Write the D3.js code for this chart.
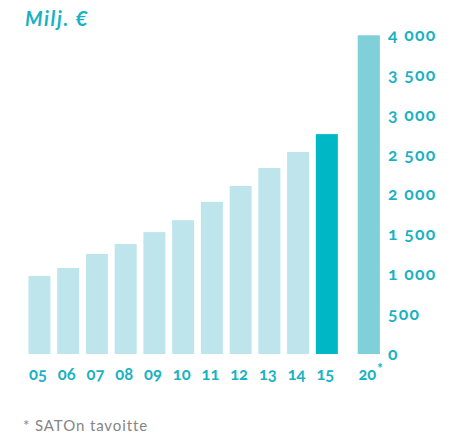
<!DOCTYPE html>
<html>
<head>
<meta charset="utf-8">
<script src="https://cdn.jsdelivr.net/npm/d3@7"></script>
<style>
  html, body { margin: 0; padding: 0; background: #fff; }
  svg { display: block; }
  text { font-family: Lato, "Open Sans", sans-serif; }
</style>
</head>
<body>
<svg id="chart" width="450" height="434"></svg>
<script>
// ---- data ----
const years = ["05", "06", "07", "08", "09", "10", "11", "12", "13", "14", "15"];
const values = [980, 1080, 1255, 1380, 1530, 1680, 1910, 2110, 2335, 2535, 2760];
const targetLabel = "20";
const targetValue = 4000;
const yTicks = [0, 500, 1000, 1500, 2000, 2500, 3000, 3500, 4000];
const unitLabel = "Milj. €";
const footnote = "* SATOn tavoitte";

// ---- styles ----
const teal = "#18b2c2";
const lightBar = "#bee5eb";
const darkBar = "#00b8c5";
const targetBar = "#80d0d9";

const svg = d3.select("#chart");

const y = d3.scaleLinear().domain([0, 4000]).range([354, 35.3]);

const x = d3.scaleBand().domain(years).range([25.1, 341.2])
  .paddingInner(0.234).paddingOuter(0.117);
const x2 = d3.scaleBand().domain([targetLabel]).range([354.3, 383.3])
  .paddingInner(0.234).paddingOuter(0.117);

// bars
svg.append("g").selectAll("rect").data(years).join("rect")
  .attr("x", d => x(d))
  .attr("width", x.bandwidth())
  .attr("y", (d, i) => y(values[i]))
  .attr("height", (d, i) => y(0) - y(values[i]))
  .attr("fill", d => d === "15" ? darkBar : lightBar);

svg.append("rect")
  .attr("x", x2(targetLabel))
  .attr("width", x2.bandwidth())
  .attr("y", y(targetValue))
  .attr("height", y(0) - y(targetValue))
  .attr("fill", targetBar);

// x labels
svg.append("g").selectAll("text").data(years).join("text")
  .attr("x", d => x(d) + x.bandwidth() / 2 - 1.5)
  .attr("y", 380)
  .attr("text-anchor", "middle")
  .attr("fill", teal)
  .attr("font-size", 16.5)
  .attr("font-weight", 700)
  .style("font-variant-numeric", "oldstyle-nums")
  .text(d => d);

const tl = svg.append("text")
  .attr("y", 380)
  .attr("fill", teal)
  .attr("font-size", 16.5)
  .attr("font-weight", 700)
  .style("font-variant-numeric", "oldstyle-nums");
tl.append("tspan").text(targetLabel);
const w20 = tl.node().getComputedTextLength();
tl.attr("x", x2(targetLabel) + x2.bandwidth() / 2 - 1.5 - w20 / 2);
tl.append("tspan").attr("dx", 1).attr("dy", -7).attr("font-size", 13).attr("font-weight", 900).text("*");

// y axis (right)
const yAxis = d3.axisRight(y).tickValues(yTicks).tickSize(0).tickPadding(0)
  .tickFormat(v => d3.format(",")(v).replace(/,/g, " "));
const gy = svg.append("g").attr("transform", "translate(388,0)").call(yAxis);
gy.select(".domain").remove();
gy.selectAll("text")
  .attr("fill", teal)
  .attr("font-size", 17.5)
  .attr("font-weight", 700)
  .attr("dy", "0.3em")
  .style("letter-spacing", "1.3px")
  .style("font-variant-numeric", "oldstyle-nums")
  .style("font-family", "Lato, sans-serif");

// unit title
svg.append("text")
  .attr("x", 25).attr("y", 26)
  .attr("fill", teal)
  .attr("font-size", 20)
  .attr("font-weight", 700)
  .attr("font-style", "italic")
  .style("letter-spacing", "1.6px")
  .text(unitLabel);

// footnote
svg.append("text")
  .attr("x", 23).attr("y", 431)
  .attr("fill", "#858585")
  .attr("font-size", 15)
  .style("letter-spacing", "0.9px")
  .text(footnote);
</script>
</body>
</html>
